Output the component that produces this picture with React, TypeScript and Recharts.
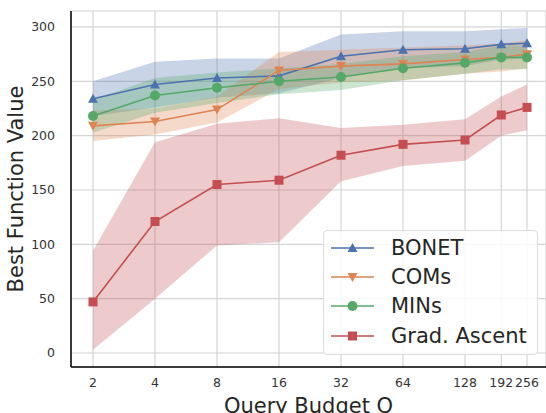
import { ComposedChart, Line, Area, XAxis, YAxis, CartesianGrid } from 'recharts';

const budgets = [2, 4, 8, 16, 32, 64, 128, 192, 256];
const yTicks = [0, 50, 100, 150, 200, 250, 300];

const bonetMean = [234, 247, 253, 255, 273, 279, 280, 284, 285];
const bonetStd = [16, 21, 18, 16, 20, 17, 16, 14, 14];
const comsMean = [209, 213, 224, 260, 264, 266, 270, 272, 275];
const comsStd = [14, 12, 12, 17, 15, 15, 13, 13, 13];
const minsMean = [218, 237, 244, 250, 254, 262, 267, 272, 272];
const minsStd = [15, 16, 14, 12, 12, 11, 10, 11, 11];
const gradMean = [47, 121, 155, 159, 182, 192, 196, 219, 226];
const gradLow = [3, 50, 99, 102, 158, 172, 177, 200, 205];
const gradHigh = [94, 194, 211, 216, 207, 210, 215, 236, 247];

const BLUE = '#4C72B0';
const ORANGE = '#DD8452';
const GREEN = '#55A868';
const RED = '#C44E52';

const FONT = '"DejaVu Sans", sans-serif';

const data = budgets.map((q, i) => ({
  q,
  bonet: bonetMean[i],
  bonetBand: [bonetMean[i] - bonetStd[i], bonetMean[i] + bonetStd[i]],
  coms: comsMean[i],
  comsBand: [comsMean[i] - comsStd[i], comsMean[i] + comsStd[i]],
  mins: minsMean[i],
  minsBand: [minsMean[i] - minsStd[i], minsMean[i] + minsStd[i]],
  grad: gradMean[i],
  gradBand: [gradLow[i], gradHigh[i]],
}));

type Shape = 'up' | 'down' | 'circle' | 'square';

function marker(shape: Shape, color: string, cx: number, cy: number, key?: string | number) {
  const r = 5;
  if (shape === 'up') {
    return <polygon key={key} points={`${cx},${cy - r} ${cx - r},${cy + r * 0.8} ${cx + r},${cy + r * 0.8}`} fill={color} />;
  }
  if (shape === 'down') {
    return <polygon key={key} points={`${cx},${cy + r} ${cx - r},${cy - r * 0.8} ${cx + r},${cy - r * 0.8}`} fill={color} />;
  }
  if (shape === 'circle') {
    return <circle key={key} cx={cx} cy={cy} r={r} fill={color} />;
  }
  return <rect key={key} x={cx - 4.5} y={cy - 4.5} width={9} height={9} fill={color} />;
}

const dotFor = (shape: Shape, color: string) => (props: any) =>
  marker(shape, color, props.cx, props.cy, props.index);

const series: { name: string; color: string; shape: Shape }[] = [
  { name: 'BONET', color: BLUE, shape: 'up' },
  { name: 'COMs', color: ORANGE, shape: 'down' },
  { name: 'MINs', color: GREEN, shape: 'circle' },
  { name: 'Grad. Ascent', color: RED, shape: 'square' },
];

function LegendBox() {
  return (
    <div
      style={{
        position: 'absolute',
        left: 323,
        top: 230,
        width: 215,
        height: 125,
        boxSizing: 'border-box',
        background: 'rgba(255,255,255,0.85)',
        border: '1px solid #dddddd',
        borderRadius: 4,
        paddingTop: 2,
        fontFamily: FONT,
        fontSize: 21,
        color: '#262626',
      }}
    >
      {series.map(s => (
        <div key={s.name} style={{ display: 'flex', alignItems: 'center', height: 29.3 }}>
          <svg width={61} height={20} style={{ marginLeft: 6, flex: 'none' }}>
            <line x1={1} y1={10} x2={44} y2={10} stroke={s.color} strokeWidth={1.6} />
            {marker(s.shape, s.color, 22.5, 10)}
          </svg>
          <span>{s.name}</span>
        </div>
      ))}
    </div>
  );
}

export default function App() {
  return (
    <div style={{ position: 'absolute', left: 0, top: 0, width: 546, height: 413, background: '#fff' }}>
      <ComposedChart width={546} height={413} data={data} margin={{ top: 11, right: 0, bottom: 0, left: 0 }}>
        <CartesianGrid stroke="#d4d4d4" strokeWidth={1.2} />
        <XAxis
          dataKey="q"
          type="number"
          scale="log"
          domain={[1.564, 316.5]}
          allowDataOverflow
          ticks={budgets}
          interval={0}
          height={46}
          tickLine={false}
          axisLine={{ stroke: '#000', strokeWidth: 1.5 }}
          tick={{ fontSize: 12.5, fill: '#333', fontFamily: FONT }}
          tickMargin={5}
          label={{ value: 'Query Budget Q', position: 'insideBottom', offset: 0, fontSize: 21, fill: '#262626', fontFamily: FONT }}
        />
        <XAxis xAxisId="top" orientation="top" dataKey="q" type="number" scale="log" domain={[1.564, 316.5]} allowDataOverflow height={0} tick={false} tickLine={false} axisLine={{ stroke: '#000', strokeWidth: 1.5 }} />
        <YAxis
          type="number"
          domain={[-12.9, 314.7]}
          allowDataOverflow
          ticks={yTicks}
          width={71}
          tickLine={false}
          axisLine={{ stroke: '#000', strokeWidth: 1.5 }}
          tick={{ fontSize: 12.5, fill: '#333', fontFamily: FONT }}
          tickMargin={10}
          label={{ value: 'Best Function Value', angle: -90, position: 'insideLeft', offset: 16, fontSize: 21, fill: '#262626', fontFamily: FONT, style: { textAnchor: 'middle' } }}
        />
        <Area dataKey="bonetBand" type="linear" fill={BLUE} fillOpacity={0.3} stroke="none" isAnimationActive={false} activeDot={false} />
        <Area dataKey="comsBand" type="linear" fill={ORANGE} fillOpacity={0.3} stroke="none" isAnimationActive={false} activeDot={false} />
        <Area dataKey="minsBand" type="linear" fill={GREEN} fillOpacity={0.3} stroke="none" isAnimationActive={false} activeDot={false} />
        <Area dataKey="gradBand" type="linear" fill={RED} fillOpacity={0.3} stroke="none" isAnimationActive={false} activeDot={false} />
        <Line dataKey="bonet" type="linear" stroke={BLUE} strokeWidth={1.6} dot={dotFor('up', BLUE)} isAnimationActive={false} activeDot={false} />
        <Line dataKey="coms" type="linear" stroke={ORANGE} strokeWidth={1.6} dot={dotFor('down', ORANGE)} isAnimationActive={false} activeDot={false} />
        <Line dataKey="mins" type="linear" stroke={GREEN} strokeWidth={1.6} dot={dotFor('circle', GREEN)} isAnimationActive={false} activeDot={false} />
        <Line dataKey="grad" type="linear" stroke={RED} strokeWidth={1.6} dot={dotFor('square', RED)} isAnimationActive={false} activeDot={false} />
      </ComposedChart>
      <LegendBox />
    </div>
  );
}
